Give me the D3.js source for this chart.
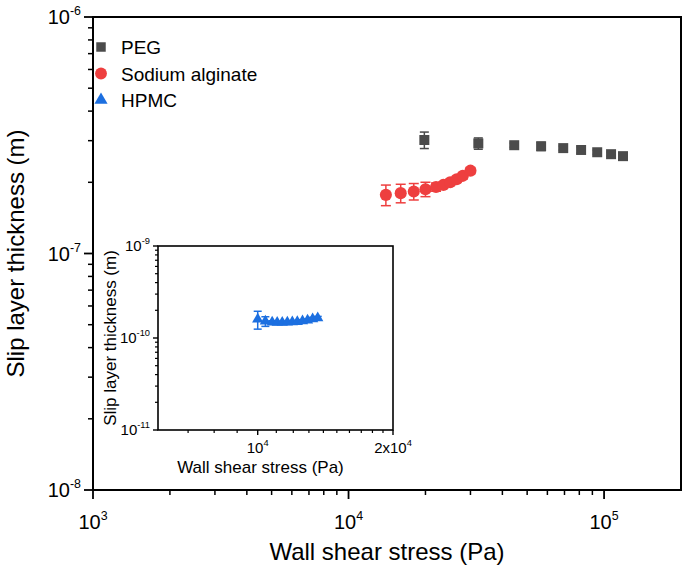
<!DOCTYPE html>
<html lang="en">
<head>
<meta charset="UTF-8" />
<title>Slip layer thickness vs wall shear stress</title>
<style>
  body { margin: 0; background: #fff; }
  svg text { font-family: "Liberation Sans", Arial, sans-serif; fill: #000; }
</style>
</head>
<body>
<svg width="685" height="569"></svg>
<script src="https://cdn.jsdelivr.net/npm/d3@7"></script>
<script>
// series (stress in Pa, thickness in m, error as fraction)
const pegStress = [19800, 32200, 44500, 56700, 69200, 81300, 94000, 106500, 118600];
const pegThickness = [3.02e-7, 2.92e-7, 2.87e-7, 2.84e-7, 2.79e-7, 2.74e-7, 2.68e-7, 2.63e-7, 2.58e-7];
const pegError = [0.08, 0.055, 0.02, 0.04, 0.02, 0.03, 0.02, 0.02, 0.02];

const algStress = [14000, 16000, 18000, 20000, 22000, 23500, 25000, 26500, 28000, 30000];
const algThickness = [1.77e-7, 1.80e-7, 1.83e-7, 1.87e-7, 1.91e-7, 1.95e-7, 2.00e-7, 2.06e-7, 2.13e-7, 2.24e-7];
const algError = [0.10, 0.09, 0.08, 0.07, 0.04, 0.03, 0.03, 0.03, 0.03, 0.03];

const hpmcStress = [10000, 10400, 10770, 11050, 11340, 11640, 11940, 12250, 12580, 12910, 13250, 13600];
const hpmcThickness = [1.60e-10, 1.52e-10, 1.48e-10, 1.47e-10, 1.47e-10, 1.48e-10, 1.49e-10, 1.50e-10, 1.53e-10, 1.56e-10, 1.61e-10, 1.65e-10];
const hpmcError = [0.22, 0.12, 0.04, 0.03, 0.03, 0.03, 0.03, 0.03, 0.03, 0.03, 0.04, 0.04];

const legendNames = ["PEG", "Sodium alginate", "HPMC"];
const colors = ["#4b4b4b", "#ee3f3f", "#1c6fe0"];

const mainXTicks = [1e3, 1e4, 1e5];
const mainYTicks = [1e-8, 1e-7, 1e-6];
const insetXTicks = [1e4, 2e4];
const insetXLabels = [["10", "4"], ["2x10", "4"]];
const insetYTicks = [1e-11, 1e-10, 1e-9];

const svg = d3.select("svg");

// helper: text like 10^n
function powLabel(sel, base, exp, size) {
  sel.append("tspan").text(base);
  sel.append("tspan").attr("dy", -size * 0.45).style("font-size", size * 0.62 + "px").text(exp);
}

function logMinors(lo, hi) {
  const out = [];
  for (let d = Math.floor(Math.log10(lo)); d <= Math.ceil(Math.log10(hi)); d++) {
    for (let k = 2; k <= 9; k++) {
      const v = k * Math.pow(10, d);
      if (v > lo * 1.0001 && v < hi * 0.9999) out.push(v);
    }
  }
  return out;
}

function errorBars(g, xs, ys, es, x, y, color, cap) {
  const bars = g.append("g").attr("stroke", color).attr("stroke-width", 1.5);
  xs.forEach((sx, i) => {
    const px = x(sx), lo = y(ys[i] * (1 - es[i])), hi = y(ys[i] * (1 + es[i]));
    bars.append("line").attr("x1", px).attr("x2", px).attr("y1", lo).attr("y2", hi);
    bars.append("line").attr("x1", px - cap).attr("x2", px + cap).attr("y1", lo).attr("y2", lo);
    bars.append("line").attr("x1", px - cap).attr("x2", px + cap).attr("y1", hi).attr("y2", hi);
  });
}

// ---------- main chart ----------
const M = { left: 93, right: 681, top: 17, bottom: 490 };
const x = d3.scaleLog().domain([1e3, 2e5]).range([M.left, M.right]);
const y = d3.scaleLog().domain([1e-8, 1e-6]).range([M.bottom, M.top]);

const main = svg.append("g");

// minor / major ticks, outward
main.selectAll(".xminor").data(logMinors(1e3, 2e5)).enter().append("line")
  .attr("x1", d => x(d)).attr("x2", d => x(d)).attr("y1", M.bottom).attr("y2", M.bottom + 5)
  .attr("stroke", "#000").attr("stroke-width", 1.5);
main.selectAll(".xmajor").data(mainXTicks).enter().append("line")
  .attr("x1", d => x(d)).attr("x2", d => x(d)).attr("y1", M.bottom).attr("y2", M.bottom + 9)
  .attr("stroke", "#000").attr("stroke-width", 1.8);
main.selectAll(".yminor").data(logMinors(1e-8, 1e-6)).enter().append("line")
  .attr("x1", M.left - 5).attr("x2", M.left).attr("y1", d => y(d)).attr("y2", d => y(d))
  .attr("stroke", "#000").attr("stroke-width", 1.5);
main.selectAll(".ymajor").data(mainYTicks).enter().append("line")
  .attr("x1", M.left - 9).attr("x2", M.left).attr("y1", d => y(d)).attr("y2", d => y(d))
  .attr("stroke", "#000").attr("stroke-width", 1.8);

main.append("rect")
  .attr("x", M.left).attr("y", M.top)
  .attr("width", M.right - M.left).attr("height", M.bottom - M.top)
  .attr("fill", "none").attr("stroke", "#000").attr("stroke-width", 2);

mainXTicks.forEach(v => {
  const t = main.append("text").attr("x", x(v)).attr("y", M.bottom + 39)
    .attr("text-anchor", "middle").style("font-size", "20px");
  powLabel(t, "10", Math.round(Math.log10(v)), 20);
});
mainYTicks.forEach(v => {
  const t = main.append("text").attr("x", M.left - 12).attr("y", y(v) + 7)
    .attr("text-anchor", "end").style("font-size", "20px");
  powLabel(t, "10", Math.round(Math.log10(v)), 20);
});

main.append("text").attr("x", (M.left + M.right) / 2).attr("y", 560)
  .attr("text-anchor", "middle").style("font-size", "24px").text("Wall shear stress (Pa)");
main.append("text")
  .attr("transform", `translate(24,${(M.top + M.bottom) / 2}) rotate(-90)`)
  .attr("text-anchor", "middle").style("font-size", "24px").text("Slip layer thickness (m)");

// PEG + alginate data
errorBars(main, pegStress, pegThickness, pegError, x, y, colors[0], 4.5);
main.selectAll(".peg").data(pegStress).enter().append("path")
  .attr("d", d3.symbol(d3.symbolSquare, 100))
  .attr("transform", (d, i) => `translate(${x(d)},${y(pegThickness[i])})`)
  .attr("fill", colors[0]);

errorBars(main, algStress, algThickness, algError, x, y, colors[1], 5);
main.selectAll(".alg").data(algStress).enter().append("path")
  .attr("d", d3.symbol(d3.symbolCircle, 115))
  .attr("transform", (d, i) => `translate(${x(d)},${y(algThickness[i])})`)
  .attr("fill", colors[1]);

// legend
const legendSymbols = [d3.symbolSquare, d3.symbolCircle, d3.symbolTriangle];
const legendSizes = [90, 110, 75];
legendNames.forEach((name, i) => {
  const ly = 47 + i * 26.5;
  main.append("path").attr("d", d3.symbol(legendSymbols[i], legendSizes[i]))
    .attr("transform", `translate(101,${ly})`).attr("fill", colors[i]);
  main.append("text").attr("x", 121).attr("y", ly + 7).style("font-size", "19px").text(name);
});

// ---------- inset ----------
const I = { left: 158, right: 393, top: 246, bottom: 430 };
const ix = d3.scaleLog().domain([6000, 2e4]).range([I.left, I.right]);
const iy = d3.scaleLog().domain([1e-11, 1e-9]).range([I.bottom, I.top]);
const inset = svg.append("g");

inset.append("rect")
  .attr("x", I.left).attr("y", I.top)
  .attr("width", I.right - I.left).attr("height", I.bottom - I.top)
  .attr("fill", "#fff").attr("stroke", "#000").attr("stroke-width", 1.6);

const insetXMinor = d3.range(7000, 20000, 1000).filter(v => v !== 10000);
inset.selectAll(".ixminor").data(insetXMinor).enter().append("line")
  .attr("x1", d => ix(d)).attr("x2", d => ix(d)).attr("y1", I.bottom).attr("y2", I.bottom + 3)
  .attr("stroke", "#000").attr("stroke-width", 1.2);
inset.selectAll(".ixmajor").data(insetXTicks).enter().append("line")
  .attr("x1", d => ix(d)).attr("x2", d => ix(d)).attr("y1", I.bottom).attr("y2", I.bottom + 5)
  .attr("stroke", "#000").attr("stroke-width", 1.4);
inset.selectAll(".iyminor").data(logMinors(1e-11, 1e-9)).enter().append("line")
  .attr("x1", I.left - 3).attr("x2", I.left).attr("y1", d => iy(d)).attr("y2", d => iy(d))
  .attr("stroke", "#000").attr("stroke-width", 1.2);
inset.selectAll(".iymajor").data(insetYTicks).enter().append("line")
  .attr("x1", I.left - 5).attr("x2", I.left).attr("y1", d => iy(d)).attr("y2", d => iy(d))
  .attr("stroke", "#000").attr("stroke-width", 1.4);

insetXTicks.forEach((v, i) => {
  const t = inset.append("text").attr("x", ix(v)).attr("y", I.bottom + 23)
    .attr("text-anchor", "middle").style("font-size", "15px");
  powLabel(t, insetXLabels[i][0], insetXLabels[i][1], 15);
});
insetYTicks.forEach(v => {
  const t = inset.append("text").attr("x", I.left - 8).attr("y", iy(v) + 5)
    .attr("text-anchor", "end").style("font-size", "15px");
  powLabel(t, "10", Math.round(Math.log10(v)), 15);
});

inset.append("text").attr("x", (I.left + I.right) / 2 - 15).attr("y", 473)
  .attr("text-anchor", "middle").style("font-size", "17px").text("Wall shear stress (Pa)");
inset.append("text")
  .attr("transform", `translate(116,${(I.top + I.bottom) / 2}) rotate(-90)`)
  .attr("text-anchor", "middle").style("font-size", "17px").text("Slip layer thickness (m)");

errorBars(inset, hpmcStress, hpmcThickness, hpmcError, ix, iy, colors[2], 4);
inset.selectAll(".hpmc").data(hpmcStress).enter().append("path")
  .attr("d", d3.symbol(d3.symbolTriangle, 55))
  .attr("transform", (d, i) => `translate(${ix(d)},${iy(hpmcThickness[i])})`)
  .attr("fill", colors[2]);
</script>
</body>
</html>
